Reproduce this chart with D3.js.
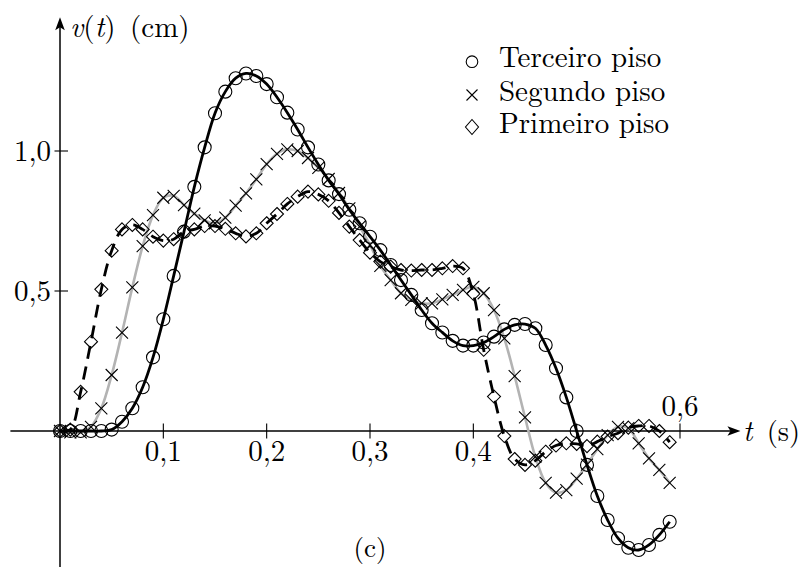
<!DOCTYPE html>
<html><head><meta charset="utf-8">
<script src="https://cdn.jsdelivr.net/npm/d3@7"></script>
<style>
body{margin:0;background:#fff}
svg{display:block}
</style>
</head><body>
<svg id="c" width="801" height="567"></svg>
<script>
// ---- data (t in s, v in cm) ----
const times=[0,0.01,0.02,0.03,0.04,0.05,0.06,0.07,0.08,0.09,
0.10,0.11,0.12,0.13,0.14,0.15,0.16,0.17,0.18,0.19,
0.20,0.21,0.22,0.23,0.24,0.25,0.26,0.27,0.28,0.29,
0.30,0.31,0.32,0.33,0.34,0.35,0.36,0.37,0.38,0.39,
0.40,0.41,0.42,0.43,0.44,0.45,0.46,0.47,0.48,0.49,
0.50,0.51,0.52,0.53,0.54,0.55,0.56,0.57,0.58,0.59];
const terceiro=[0,0,0,0,0,0.005,0.033,0.081,0.156,0.263,
0.399,0.554,0.712,0.872,1.013,1.135,1.212,1.26,1.277,1.268,
1.239,1.192,1.137,1.077,1.013,0.952,0.895,0.846,0.79,0.742,
0.694,0.646,0.593,0.539,0.486,0.432,0.385,0.352,0.322,0.305,
0.305,0.316,0.337,0.363,0.379,0.382,0.367,0.307,0.224,0.12,
0,-0.121,-0.232,-0.318,-0.383,-0.417,-0.425,-0.407,-0.371,-0.324];
const segundo=[0,-0.005,-0.005,0.015,0.081,0.2,0.351,0.513,0.66,0.771,
0.833,0.84,0.807,0.776,0.752,0.742,0.762,0.805,0.849,0.899,
0.953,0.99,1.006,1.0,0.975,0.94,0.9,0.85,0.795,0.73,
0.665,0.59,0.539,0.492,0.468,0.456,0.456,0.47,0.486,0.504,
0.515,0.492,0.432,0.331,0.196,0.049,-0.092,-0.185,-0.22,-0.211,
-0.17,-0.12,-0.065,-0.015,0.015,0.01,-0.044,-0.098,-0.139,-0.185];
const primeiro=[0,0.005,0.14,0.319,0.506,0.644,0.72,0.736,0.72,0.694,
0.68,0.685,0.712,0.72,0.732,0.732,0.722,0.706,0.695,0.706,
0.742,0.775,0.811,0.837,0.855,0.845,0.822,0.779,0.73,0.682,
0.637,0.605,0.587,0.575,0.573,0.575,0.575,0.581,0.589,0.581,
0.49,0.29,0.123,-0.018,-0.1,-0.121,-0.106,-0.074,-0.052,-0.044,
-0.046,-0.054,-0.038,-0.02,-0.008,0.012,0.018,0.018,0,-0.04];
const xTicks=[0.1,0.2,0.3,0.4,0.5,0.6];
const xTickLabels=["0,1","0,2","0,3","0,4","","0,6"];
const yTicks=[0.5,1.0];
const yTickLabels=["0,5","1,0"];
const legendLabels=["Terceiro piso","Segundo piso","Primeiro piso"];

const FONT="'Latin Modern Roman','Liberation Serif'";

// ---- scales ----
const svg=d3.select("#c");
const x=d3.scaleLinear().domain([0,0.6]).range([60,680]);
const y=d3.scaleLinear().domain([0,1]).range([431,151]);

// ---- axes ----
const ax=svg.append("g").attr("stroke","#000").attr("stroke-width",1.5);
ax.append("line").attr("x1",x(-0.048)).attr("x2",x(0.655)).attr("y1",y(0)).attr("y2",y(0));
ax.append("line").attr("x1",x(0)).attr("x2",x(0)).attr("y1",y(-0.52)).attr("y2",y(1.46));
// arrowheads
const tipX=x(0.6585), ay=y(0);
svg.append("path").attr("fill","#000")
  .attr("d",`M${tipX},${ay} L${tipX-13},${ay-4.8} L${tipX-10},${ay} L${tipX-13},${ay+4.8} Z`);
const tipY=y(1.478), axx=x(0);
svg.append("path").attr("fill","#000")
  .attr("d",`M${axx},${tipY} L${axx-4.8},${tipY+13} L${axx},${tipY+10} L${axx+4.8},${tipY+13} Z`);

// ticks
svg.append("g").selectAll("line").data(xTicks).join("line")
  .attr("x1",d=>x(d)).attr("x2",d=>x(d)).attr("y1",y(0)-7.5).attr("y2",y(0)+7.5)
  .attr("stroke","#000").attr("stroke-width",1.1);
svg.append("g").selectAll("line").data(yTicks).join("line")
  .attr("y1",d=>y(d)).attr("y2",d=>y(d)).attr("x1",x(0)-5.5).attr("x2",x(0)+8)
  .attr("stroke","#000").attr("stroke-width",1.1);

const T=svg.append("g").attr("fill","#000");
const txt=(sel)=>sel.style("font-family",FONT);

// tick labels
txt(T.append("g").selectAll("text").data(xTicks).join("text"))
  .attr("x",d=>x(d)).attr("y",(d,i)=>i===xTicks.length-1? y(0)-15 : y(0)+30)
  .attr("text-anchor","middle").attr("font-size",29)
  .text((d,i)=>xTickLabels[i]);
txt(T.append("g").selectAll("text").data(yTicks).join("text"))
  .attr("x",x(0)-9).attr("y",d=>y(d)+9.5)
  .attr("text-anchor","end").attr("font-size",29)
  .text((d,i)=>yTickLabels[i]);

// axis titles
const yt=txt(T.append("text")).attr("x",70).attr("y",37).attr("font-size",29);
yt.append("tspan").attr("font-style","italic").text("v");
yt.append("tspan").text("(");
yt.append("tspan").attr("font-style","italic").text("t");
yt.append("tspan").text(")\u00A0(cm)");
const xt=txt(T.append("text")).attr("x",743).attr("y",y(0)+9.5).attr("font-size",28.5);
xt.append("tspan").attr("font-style","italic").text("t");
xt.append("tspan").text("\u00A0(s)");
txt(T.append("text")).attr("x",370).attr("y",557).attr("text-anchor","middle")
  .attr("font-size",27).text("(c)");

// ---- lines ----
const mk=arr=>times.map((t,i)=>[t,arr[i]]);
const line=d3.line().x(d=>x(d[0])).y(d=>y(d[1])).curve(d3.curveCatmullRom.alpha(0.5));
const lines=svg.append("g").attr("fill","none");
lines.append("path").attr("d",line(mk(segundo))).attr("stroke","#b3b3b3").attr("stroke-width",2.6);
lines.append("path").attr("d",line(mk(primeiro))).attr("stroke","#000").attr("stroke-width",2.8)
  .attr("stroke-dasharray","13,8");
lines.append("path").attr("d",line(mk(terceiro))).attr("stroke","#000").attr("stroke-width",2.8);

// ---- markers ----
const m=svg.append("g").attr("fill","none").attr("stroke","#000").attr("stroke-width",1.1);
m.selectAll("circle.t").data(mk(terceiro)).join("circle").attr("class","t")
  .attr("cx",d=>x(d[0])).attr("cy",d=>y(d[1])).attr("r",6.5);
const cs=6;
m.selectAll("path.s").data(mk(segundo)).join("path").attr("class","s")
  .attr("d",d=>{const px=x(d[0]),py=y(d[1]);
    return `M${px-cs},${py-cs}L${px+cs},${py+cs}M${px-cs},${py+cs}L${px+cs},${py-cs}`;});
const ds=6.5;
m.selectAll("path.p").data(mk(primeiro)).join("path").attr("class","p")
  .attr("d",d=>{const px=x(d[0]),py=y(d[1]);
    return `M${px},${py-ds}L${px+ds},${py}L${px},${py+ds}L${px-ds},${py}Z`;});

// ---- legend ----
const lg=svg.append("g");
const lx=472, rows=[61.7,95,127];
lg.append("circle").attr("cx",lx).attr("cy",rows[0]).attr("r",5.8)
  .attr("fill","none").attr("stroke","#000").attr("stroke-width",1.1);
lg.append("path").attr("fill","none").attr("stroke","#000").attr("stroke-width",1.1)
  .attr("d",`M${lx-5.5},${rows[1]-5.5}L${lx+5.5},${rows[1]+5.5}M${lx-5.5},${rows[1]+5.5}L${lx+5.5},${rows[1]-5.5}`);
lg.append("path").attr("fill","none").attr("stroke","#000").attr("stroke-width",1.1)
  .attr("d",`M${lx},${rows[2]-7.5}L${lx+6.5},${rows[2]}L${lx},${rows[2]+7.5}L${lx-6.5},${rows[2]}Z`);
txt(T.append("g").selectAll("text").data(legendLabels).join("text"))
  .attr("x",499).attr("y",(d,i)=>rows[i]+5.5).attr("font-size",29).text(d=>d);
</script>
</body></html>
